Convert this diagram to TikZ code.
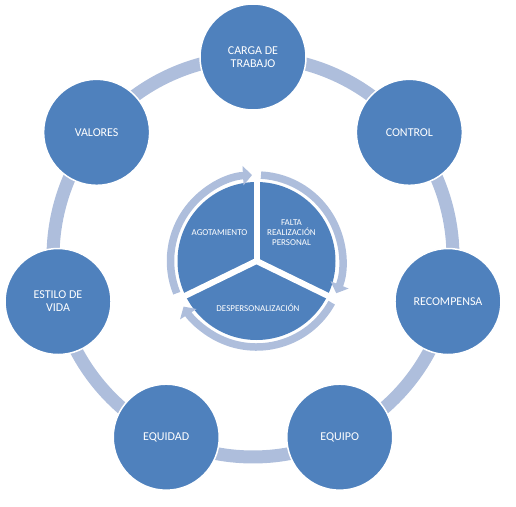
\documentclass[tikz,border=0pt]{standalone}
\usepackage{fontspec}
\setmainfont{Carlito}
\usetikzlibrary{arrows.meta,backgrounds,calc}

\definecolor{nodeblue}{RGB}{79,129,189}
\definecolor{linkblue}{RGB}{174,190,220}

\tikzset{
  factor/.style={circle,fill=nodeblue,draw=white,line width=1.5pt,minimum size=106pt,inner sep=0pt,
    text=white,align=center,font=\fontsize{12}{13}\selectfont},
  link/.style={draw=linkblue,line width=13pt},
  ring/.style={draw=linkblue,line width=7.5pt,-{Triangle[width=19pt,length=9pt]}},
  sector/.style={text=white,align=center,font=\fontsize{9}{10}\selectfont}
}

\begin{document}
\begin{tikzpicture}[x=1pt,y=1pt]
      \useasboundingbox (-253,-249) rectangle (263,257);
      % outer factors
      \node[factor] (carga) at (90:200) {CARGA DE\\TRABAJO};
      \node[factor] (control) at (38.57:200) {CONTROL};
      \node[factor] (recompensa) at (-12.86:200) {RECOMPENSA};
      \node[factor] (equipo) at (-64.29:200) {EQUIPO};
      \node[factor] (equidad) at (-115.71:200) {EQUIDAD};
      \node[factor] (estilo) at (-167.14:200) {ESTILO DE\\VIDA};
      \node[factor] (valores) at (141.43:200) {VALORES};
      \begin{scope}[on background layer]
        \draw[link] (carga.center) arc[start angle=90,end angle=38.57,radius=200];
        \draw[link] (control.center) arc[start angle=38.57,end angle=-12.86,radius=200];
        \draw[link] (recompensa.center) arc[start angle=-12.86,end angle=-64.29,radius=200];
        \draw[link] (equipo.center) arc[start angle=-64.29,end angle=-115.71,radius=200];
        \draw[link] (equidad.center) arc[start angle=-115.71,end angle=-167.14,radius=200];
        \draw[link] (estilo.center) arc[start angle=-167.14,end angle=-218.57,radius=200];
        \draw[link] (valores.center) arc[start angle=141.43,end angle=90,radius=200];
      \end{scope}
      % inner cycle
      \coordinate (mid) at (3.5,-4);
      \fill[nodeblue] (mid) circle (79);
      \foreach \a in {90,206,334}
        \draw[white,line width=6pt] (mid) -- ++(\a:81);
      \draw[ring] ($(mid)+(202:86)$) arc[start angle=202,end angle=93,radius=86];
      \draw[ring] ($(mid)+(87:86)$) arc[start angle=87,end angle=-22,radius=86];
      \draw[ring] ($(mid)+(-29:86)$) arc[start angle=-29,end angle=-148,radius=86];
      \node[sector] (agotamiento) at (-33.5,24) {AGOTAMIENTO};
      \node[sector] (falta) at (38.5,24) {FALTA\\REALIZACIÓN\\PERSONAL};
      \node[sector] (despers) at (5,-51) {DESPERSONALIZACIÓN};
\end{tikzpicture}
\end{document}
